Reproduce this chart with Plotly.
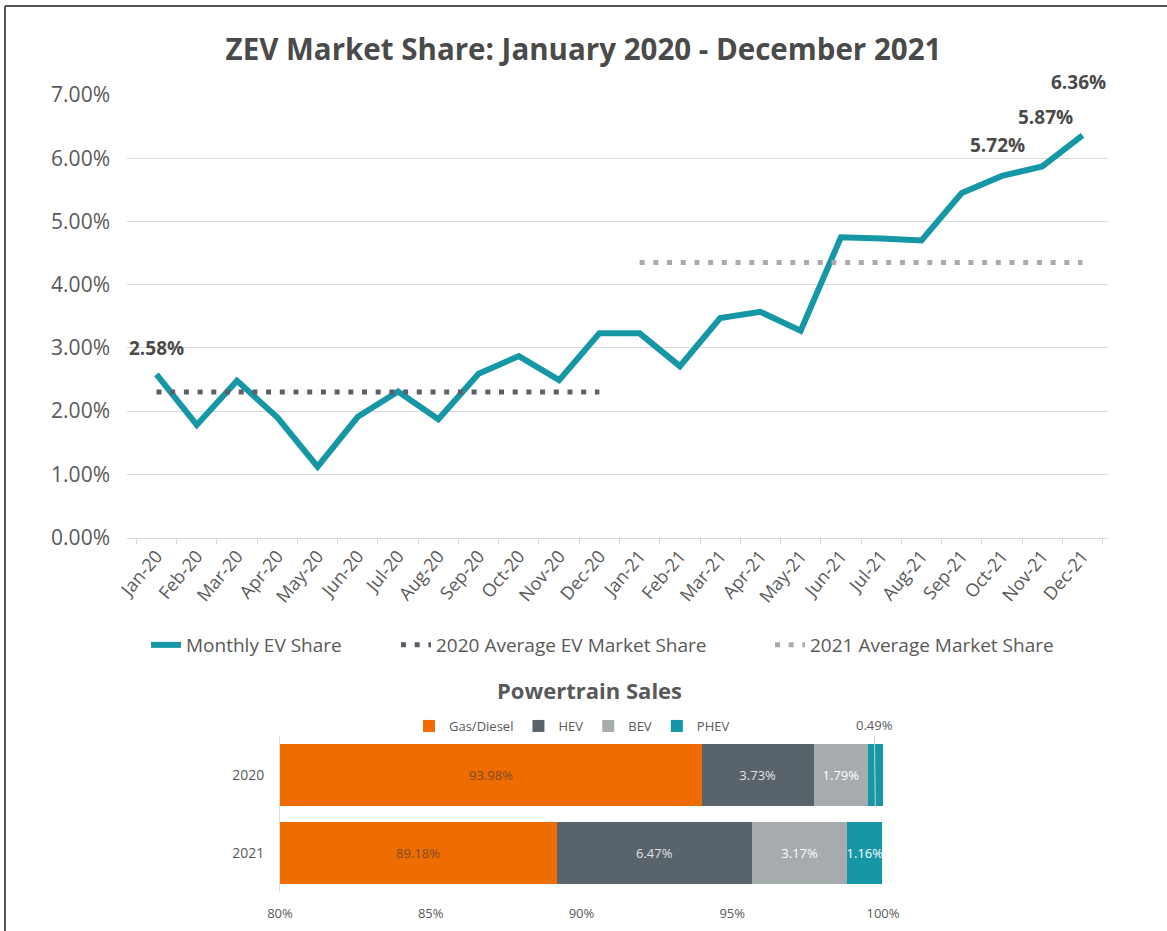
import plotly.graph_objects as go

W, H = 1167, 931

months = ["Jan-20", "Feb-20", "Mar-20", "Apr-20", "May-20", "Jun-20", "Jul-20", "Aug-20",
          "Sep-20", "Oct-20", "Nov-20", "Dec-20", "Jan-21", "Feb-21", "Mar-21", "Apr-21",
          "May-21", "Jun-21", "Jul-21", "Aug-21", "Sep-21", "Oct-21", "Nov-21", "Dec-21"]
monthly_share = [2.58, 1.78, 2.48, 1.90, 1.12, 1.91, 2.31, 1.87, 2.59, 2.87, 2.49, 3.23,
                 3.23, 2.71, 3.47, 3.57, 3.27, 4.75, 4.73, 4.70, 5.45, 5.72, 5.87, 6.36]
avg_2020 = 2.30
avg_2021 = 4.35
labelled_months = ["Jan-20", "Oct-21", "Nov-21", "Dec-21"]

years = ["2020", "2021"]
powertrains = ["Gas/Diesel", "HEV", "BEV", "PHEV"]
gas = [93.98, 89.18]
hev = [3.73, 6.47]
bev = [1.79, 3.17]
phev = [0.49, 1.16]
bar_axis_range = [80, 100]

TEAL = "#1597A5"
ORANGE = "#EE6C00"
HEVC = "#59636B"
BEVC = "#A6ABAE"
DARKDOT = "#5A6069"
LIGHTDOT = "#A8ACB0"
TXT = "#595959"
FONT = "Open Sans"

def px_x(p):
    return p / W

def px_y(p):
    return 1 - p / H

fig = go.Figure()

# ---- top line chart ----
fig.add_trace(go.Scatter(
    x=months, y=monthly_share, mode="lines", name="Monthly EV Share",
    line=dict(color=TEAL, width=6), xaxis="x", yaxis="y", legend="legend"))
fig.add_trace(go.Scatter(
    x=months[:12], y=[avg_2020] * 12, mode="lines", name="2020 Average EV Market Share",
    line=dict(color=DARKDOT, width=5, dash="5px,8.7px"), xaxis="x", yaxis="y", legend="legend3"))
fig.add_trace(go.Scatter(
    x=months[12:], y=[avg_2021] * 12, mode="lines", name="2021 Average Market Share",
    line=dict(color=LIGHTDOT, width=5, dash="5px,8.7px"), xaxis="x", yaxis="y", legend="legend4"))

shifts = {"Jan-20": (0, 26), "Oct-21": (-4, 31), "Nov-21": (3, 49), "Dec-21": (-4, 53)}
annotations = []
for m in labelled_months:
    i = months.index(m)
    xs, ys = shifts[m]
    annotations.append(dict(
        x=m, y=monthly_share[i], xref="x", yref="y", text=f"<b>{monthly_share[i]:.2f}%</b>",
        showarrow=False, xshift=xs, yshift=ys,
        font=dict(family=FONT, size=19, color="#4a4a4a")))

# ---- bottom stacked bar chart ----
colors = [ORANGE, HEVC, BEVC, TEAL]
series = [gas, hev, bev, phev]
text_colors = ["#7d4a28", "#e2e2e2", "#ffffff", "#ffffff"]
for name, vals, col, tc in zip(powertrains, series, colors, text_colors):
    txt = [f"{v:.2f}%" for v in vals]
    if name == "PHEV":
        txt[0] = ""
    fig.add_trace(go.Bar(
        y=years, x=vals, orientation="h", name=name, marker=dict(color=col, line=dict(width=0)),
        text=txt, textposition="none" if name == "Gas/Diesel" else "inside",
        insidetextanchor="middle", textangle=0,
        textfont=dict(family=FONT, size=13, color=tc),
        xaxis="x2", yaxis="y2", legend="legend2", hoverinfo="skip"))

# gas labels centred in the visible part of the bar
for i, v in enumerate(gas):
    annotations.append(dict(
        x=(bar_axis_range[0] + v) / 2, y=i, xref="x2", yref="y2", text=f"{v:.2f}%",
        showarrow=False, font=dict(family=FONT, size=13, color=text_colors[0])))

# 0.49% callout for 2020 PHEV
phev_mid_2020 = gas[0] + hev[0] + bev[0] + phev[0] / 2
annotations.append(dict(
    x=phev_mid_2020, y=0.4, xref="x2", yref="y2", text=f"{phev[0]:.2f}%",
    showarrow=True, arrowhead=0, arrowwidth=1, arrowcolor="#c9d3d6", ax=-1, ay=-81,
    font=dict(family=FONT, size=13, color=TXT)))

annotations.append(dict(
    x=px_x(589), y=px_y(690), xref="paper", yref="paper", text="<b>Powertrain Sales</b>",
    xanchor="center", yanchor="middle",
    showarrow=False, font=dict(family=FONT, size=22, color=TXT)))

leg_common = dict(orientation="h", xanchor="left", yanchor="middle", y=px_y(645),
                  font=dict(family=FONT, size=19, color=TXT), bgcolor="rgba(0,0,0,0)")

fig.update_layout(
    width=W, height=H,
    margin=dict(l=0, r=0, t=0, b=0),
    paper_bgcolor="white", plot_bgcolor="white",
    font=dict(family=FONT, color=TXT),
    title=dict(text="<b>ZEV Market Share: January 2020 - December 2021</b>",
               x=0.5, xanchor="center", y=px_y(50), yanchor="middle",
               font=dict(family=FONT, size=29.5, color="#4a4a4a")),
    barmode="stack", bargap=0.205,
    uniformtext=dict(minsize=13, mode="show"),
    xaxis=dict(domain=[px_x(127), px_x(1108)], type="category", tickangle=-50,
               showgrid=False, showline=True, linecolor="#d9d9d9", linewidth=1,
               ticks="outside", tickson="boundaries", ticklen=5, tickcolor="#d9d9d9",
               tickfont=dict(family=FONT, size=18, color=TXT), automargin=False,
               anchor="y"),
    yaxis=dict(domain=[px_y(537.5), px_y(95)], range=[0, 7], dtick=1, tick0=0,
               tickformat=".2f", ticksuffix="%", showgrid=True, gridcolor="#d9d9d9",
               gridwidth=1, zeroline=True, zerolinecolor="#d9d9d9", showline=False,
               ticklabelstandoff=16, tickfont=dict(family=FONT, size=21, color=TXT),
               automargin=False, anchor="x"),
    xaxis2=dict(domain=[px_x(280), px_x(883)], range=bar_axis_range, dtick=5, tick0=80,
                ticksuffix="%", showgrid=False, zeroline=False, showline=False,
                ticklabelstandoff=12, tickfont=dict(family=FONT, size=13, color=TXT),
                automargin=False, anchor="y2"),
    yaxis2=dict(domain=[px_y(892), px_y(736)], type="category", range=[1.5, -0.5],
                autorange=False,
                showgrid=False, showline=True, linecolor="#dcdcdc", linewidth=1,
                ticklabelstandoff=12, tickfont=dict(family=FONT, size=14, color=TXT),
                automargin=False, anchor="x2"),
    legend=dict(x=px_x(146), **leg_common),
    legend3=dict(x=px_x(396), **leg_common),
    legend4=dict(x=px_x(770), **leg_common),
    legend2=dict(orientation="h", x=px_x(572), xanchor="center", y=px_y(726), yanchor="middle",
                 font=dict(family=FONT, size=13, color=TXT), bgcolor="rgba(0,0,0,0)",
                 traceorder="normal", itemwidth=30),
    annotations=annotations,
    shapes=[
        dict(type="line", xref="paper", yref="paper", x0=px_x(5), x1=1, y0=px_y(6), y1=px_y(6),
             line=dict(color="#555555", width=2)),
        dict(type="line", xref="paper", yref="paper", x0=px_x(5), x1=px_x(5), y0=px_y(6), y1=0,
             line=dict(color="#555555", width=2)),
    ],
    showlegend=True,
)

fig.write_html("out.html")
